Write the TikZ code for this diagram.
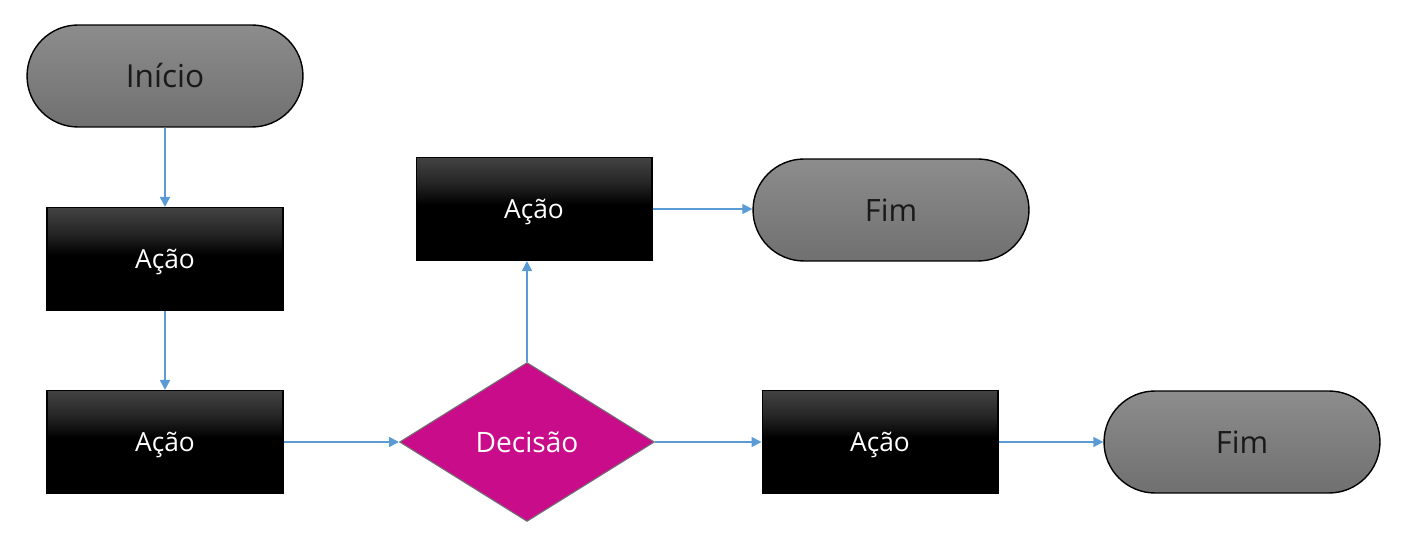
\documentclass[tikz,border=0pt]{standalone}
\usepackage{fontspec}
\setmainfont{Open Sans}
\usetikzlibrary{positioning, shapes.geometric, shapes.misc, arrows.meta}

\definecolor{linkblue}{RGB}{91,155,213}
\definecolor{decmagenta}{RGB}{201,12,138}
\pgfdeclareverticalshading{acaoshade}{100bp}{color(0bp)=(black); color(52bp)=(black);
    color(63bp)=(black!85); color(75bp)=(black!74); color(100bp)=(black!74)}

\tikzset{
    terminal/.style={rounded rectangle, draw=black, line width=0.8pt,
        top color=black!45, bottom color=black!56, inner sep=0pt,
        minimum width=5.52cm, minimum height=2.04cm, text=black!90},
    acao/.style={rectangle, draw=black, line width=0.6pt, shading=acaoshade,
        inner sep=0pt, minimum width=4.72cm, minimum height=2.06cm,
        text depth=0pt, text=white, font=\fontsize{15}{17}\selectfont},
    decisao/.style={diamond, draw=black!55, line width=0.6pt, fill=decmagenta,
        inner sep=0pt, minimum width=5.1cm, minimum height=3.18cm,
        text=white, font=\fontsize{16}{18}\selectfont},
    link/.style={draw=linkblue, line width=0.9pt, -{Triangle[length=2mm, width=2mm]}}
}

\begin{document}
\begin{tikzpicture}[x=0.02cm, y=-0.02cm]
        \useasboundingbox (0,0) rectangle (1415,546);
        \node[terminal, font=\fontsize{18}{20}\selectfont] (inicio) at (165,76)  {Início};
        \node[acao]     (acao1)   at (165,259) {Ação};
        \node[acao]     (acao2)   at (165,442) {Ação};
        \node[decisao]  (decisao) at (527,442) {Decisão};
        \node[acao]     (acao3)   at (534,209) {Ação};
        \node[terminal, font=\fontsize{17.5}{20}\selectfont] (fim1) at (891,210)  {Fim};
        \node[acao]     (acao4)   at (880,442) {Ação};
        \node[terminal, font=\fontsize{17.5}{20}\selectfont] (fim2) at (1242,442) {Fim};
        \draw[link] (inicio) -- (acao1);
        \draw[link] (acao1) -- (acao2);
        \draw[link] (acao2) -- (decisao);
        \draw[link] (decisao.north) -- (decisao.north |- acao3.south);
        \draw[link] (acao3) -- (acao3 -| fim1.west);
        \draw[link] (decisao) -- (acao4);
        \draw[link] (acao4) -- (fim2);
    \end{tikzpicture}
\end{document}
